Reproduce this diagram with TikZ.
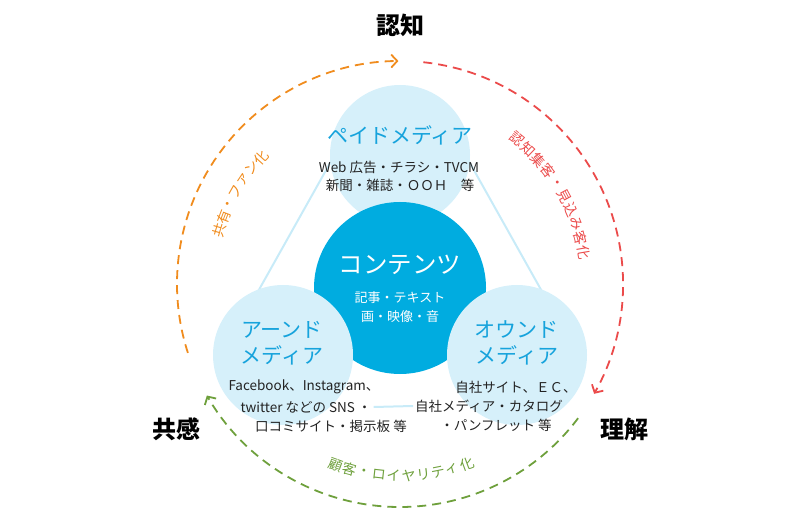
\documentclass[tikz,border=0pt]{standalone}
\usepackage{fontspec}
\setmainfont{Noto Sans CJK JP}
\usetikzlibrary{arrows.meta,calc}
\definecolor{lightc}{RGB}{214,240,250}
\definecolor{corec}{RGB}{0,172,224}
\definecolor{titlec}{RGB}{22,163,220}
\definecolor{tric}{RGB}{200,235,248}
\definecolor{txtc}{RGB}{35,35,35}
\definecolor{orangec}{RGB}{240,140,30}
\definecolor{redc}{RGB}{235,75,75}
\definecolor{greenc}{RGB}{110,160,60}
\begin{document}
\begin{tikzpicture}[x=1pt,y=-1pt,
  bubble/.style={circle,fill=lightc,minimum size=140pt,inner sep=0pt},
  core/.style={circle,fill=corec,minimum size=172pt,inner sep=0pt},
  ttl/.style={text=titlec,font=\fontsize{21}{25}\selectfont,inner sep=0pt},
  corettl/.style={text=white,font=\fontsize{24.5}{28}\selectfont,inner sep=0pt},
  small/.style={text=txtc,font=\fontsize{13.5}{16}\selectfont,inner sep=0pt},
  coresmall/.style={text=white,font=\fontsize{13}{16}\selectfont,inner sep=0pt},
  head/.style={font=\bfseries\fontsize{24}{28}\selectfont,text=black,inner sep=0pt},
  tri/.style={draw=tric,line width=2pt},
  flow/.style={line width=1.8pt,dash pattern=on 9pt off 6pt,
    -{Straight Barb[length=6pt,width=13pt,line width=1.8pt]}},
  lab/.style={font=\fontsize{14}{14}\selectfont,inner sep=0pt}
]
\useasboundingbox (0,0) rectangle (800,526);
\coordinate (c) at (400,284);

% triangle lines behind the bubbles
\coordinate (t1) at (343,140); \coordinate (l1) at (242,320);
\coordinate (t2) at (457,140); \coordinate (r1) at (558,320);
\draw[tri] (t1) -- (l1);
\draw[tri] (t2) -- (r1);

% bubbles
\node[bubble] (paid) at (400,155) {};
\node[core] (core) at (400,288) {};
\node[bubble] (earned) at (283,355) {};
\node[bubble] (owned) at (517,355) {};

% paid media
\node[ttl] (paidt) at (400,135) {ペイドメディア};
\node[small] (paid1) at (399,167) {Web 広告・チラシ・TVCM};
\node[small] (paid2) at (400,185) {新聞・雑誌・ＯＯＨ　等};

% contents
\node[corettl] (coret) at (400,265) {コンテンツ};
\node[coresmall] (core1) at (400,298) {記事・テキスト};
\node[coresmall] (core2) at (400,317) {画・映像・音};

% earned media
\node[ttl] (earnt1) at (282,330) {アーンド};
\node[ttl] (earnt2) at (282,355) {メディア};
\node[small] (earn1) at (304,387) {Facebook、Instagram、};
\node[small] (sns) at (306,407) {twitter などの SNS ・};
\node[small] (earn3) at (331,426) {口コミサイト・掲示板 等};

% owned media
\node[ttl] (ownt1) at (516,330) {オウンド};
\node[ttl] (ownt2) at (517,355) {メディア};
\node[small] (own1) at (516,387) {自社サイト、ＥＣ、};
\node[small] (cat) at (489,406) {自社メディア・カタログ};
\node[small] (own3) at (496,425) {・パンフレット 等};

\draw[tri] ([xshift=2pt]sns.east) -- ([xshift=-2pt]cat.west);

% stage headings
\node[head] (ninchi) at (400,25) {認知};
\node[head] (kyokan) at (176,429) {共感};
\node[head] (rikai) at (624,429) {理解};

% cycle arcs
\coordinate (os) at ($(c)+(198:223pt)$);
\coordinate (rs) at ($(c)+(84:223pt)$);
\coordinate (gs) at ($(c)+(-37:223pt)$);
\draw[flow,draw=orangec] (os) arc[start angle=198,end angle=90.4,radius=223pt];
\draw[flow,draw=redc] (rs) arc[start angle=84,end angle=-29.5,radius=223pt];
\draw[flow,draw=greenc] (gs) arc[start angle=-37,end angle=-150,radius=223pt];

% arc labels
\foreach \ch [count=\i from 0] in {共,有,・,フ,ァ,ン,化}{
  \pgfmathsetmacro\a{163.5-\i*4.3}
  \node[lab,text=orangec,rotate=\a-90] (ol\i) at ($(c)+(\a:188pt)$) {\ch};
}
\foreach \ch [count=\i from 0] in {認,知,集,客,・,見,込,み,客,化}{
  \pgfmathsetmacro\a{51.1-\i*4.6}
  \node[lab,text=redc,rotate=\a-90] (rl\i) at ($(c)+(\a:186pt)$) {\ch};
}
\foreach \ch [count=\i from 0] in {顧,客,・,ロ,イ,ヤ,リ,テ,ィ,化}{
  \pgfmathsetmacro\a{250.3+\i*4.45}
  \node[lab,text=greenc,rotate=\a+90] (gl\i) at ($(c)+(\a:192pt)$) {\ch};
}
\end{tikzpicture}
\end{document}
